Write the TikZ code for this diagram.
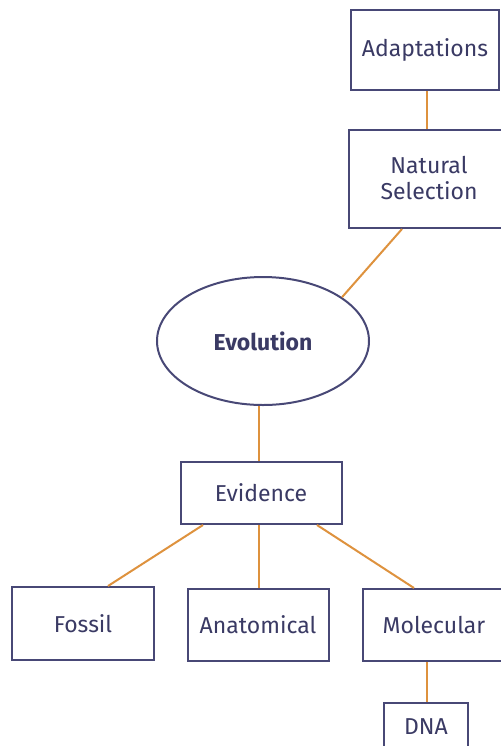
\documentclass[tikz,border=0pt]{standalone}
\usepackage{fontspec}
\setmainfont{Fira Sans}
\usetikzlibrary{shapes.geometric}

\definecolor{marco}{RGB}{72,72,118}
\definecolor{letra}{RGB}{58,58,100}
\definecolor{naranja}{RGB}{222,146,62}

\begin{document}
\begin{tikzpicture}[
    x=0.5pt, y=-0.5pt,
    % Estilo para las cajas
    caja/.style={
        draw=marco,
        line width=1pt,
        fill=white,
        text=letra,
        inner sep=0pt,
        align=center,
        font=\fontsize{11.5}{13}\selectfont
    },
    % Estilo para el nodo central
    elipse/.style={
        ellipse,
        draw=marco,
        line width=1pt,
        fill=white,
        text=letra,
        inner sep=0pt,
        minimum width=106pt,
        minimum height=64pt,
        font=\fontsize{11.5}{13}\selectfont\bfseries
    },
    % Estilo para las ramas (linea naranja)
    rama/.style={
        draw=naranja,
        line width=1pt
    }
]
    \useasboundingbox (0,0) rectangle (501,746);

    % --- PARTE SUPERIOR ---
    \node[caja, minimum width=74pt, minimum height=40pt] (adap) at (425,50) {Adaptations};
    \node[caja, minimum width=80pt, minimum height=49pt] (sel)  at (429,179) {\raisebox{1.5pt}{Natural}\\\raisebox{1.5pt}{Selection}};

    % --- CENTRO ---
    \node[elipse] (evo) at (263,341) {Evolution};
    \node[caja, minimum width=80.5pt, minimum height=31pt] (evi) at (261,493) {Evidence};

    % --- TIPOS DE EVIDENCIA ---
    \node[caja, minimum width=71pt,   minimum height=36.5pt] (fos) at (83,623.5) {Fossil};
    \node[caja, minimum width=70.5pt, minimum height=36pt]   (ana) at (258,625)  {Anatomical};
    \node[caja, minimum width=71pt,   minimum height=36pt]   (mol) at (434,625)  {Molecular};
    \node[caja, minimum width=42pt,   minimum height=26pt]   (dna) at (426,729)  {\raisebox{2pt}{DNA}};

    % --- RAMAS ---
    \draw[rama] ([xshift=1pt]adap.south) -- ([xshift=1pt]adap.south |- sel.north);
    \draw[rama] ([xshift=-13.5pt]sel.south) -- (evo.29);
    \draw[rama] ([xshift=-1pt]evi.north |- evo.south) -- ([xshift=-1pt]evi.north);
    \draw[rama] ([xshift=-29pt]evi.south) -- ([xshift=12.5pt]fos.north);
    \draw[rama] ([xshift=-1pt]evi.south) -- ([xshift=-1pt]evi.south |- ana.north);
    \draw[rama] ([xshift=28pt]evi.south) -- ([xshift=-10pt]mol.north);
    \draw[rama] ([xshift=0.5pt]dna.north |- mol.south) -- ([xshift=0.5pt]dna.north);

\end{tikzpicture}
\end{document}
